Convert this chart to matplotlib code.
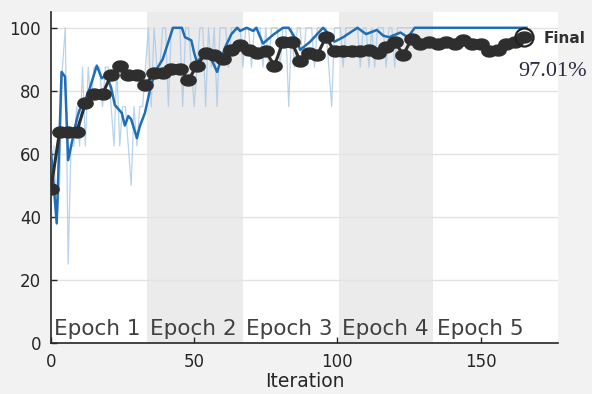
import matplotlib
matplotlib.use("Agg")
import matplotlib.pyplot as plt
from matplotlib.path import Path
import numpy as np

# raw mini-batch accuracy, one value per iteration (1..166)
raw_acc = [62.5, 37.5, 50, 87.5, 100, 25, 62.5, 62.5, 75, 62.5,
           87.5, 62.5, 87.5, 75, 87.5, 87.5, 87.5, 75, 87.5, 87.5,
           75, 62.5, 87.5, 62.5, 75, 75, 62.5, 50, 75, 62.5,
           75, 75, 87.5, 100, 75, 100, 87.5, 87.5, 100, 100,
           75, 100, 100, 100, 100, 75, 100, 100, 87.5, 75,
           87.5, 100, 100, 75, 100, 87.5, 100, 75, 100, 100,
           100, 87.5, 100, 100, 100, 100, 87.5, 100, 100, 87.5,
           100, 100, 100, 87.5, 100, 87.5, 100, 100, 100, 87.5,
           100, 100, 75, 100, 87.5, 100, 100, 87.5, 100, 100,
           100, 87.5, 100, 100, 100, 100, 87.5, 75, 100, 100,
           100, 87.5, 100, 100, 100, 100, 100, 87.5, 100, 100,
           87.5, 100, 87.5, 100, 100, 100, 87.5, 100, 100, 87.5,
           100, 100, 100, 100] + [100] * 42
raw_iter = list(range(1, len(raw_acc) + 1))

smooth_iter = [0, 2, 3.7, 4.9, 6, 9, 10, 11.9, 13.6, 16, 17.7, 19.4, 21, 22.3,
               24.7, 25.8, 27, 28, 30, 31, 32.8, 34.5, 36.3, 39, 42.6, 45.7,
               46.8, 49, 50, 51, 53, 56, 58, 60.7, 63, 65, 66, 68.3, 70.6,
               71.7, 74, 77.6, 81, 83, 85.8, 87, 90.4, 95, 97, 99, 102, 107,
               110, 113.8, 116, 118, 122, 124.6, 127, 166]
smooth_acc = [61, 38, 86, 84.5, 58, 71, 74, 77, 81, 88, 84, 85, 81, 75.5,
              73, 69, 72, 71, 65, 68.7, 73, 80, 86, 90, 100, 100,
              97, 96, 92, 89, 91.5, 90, 86, 93.6, 98, 100, 99, 100, 99,
              100, 95, 97.8, 100, 100, 96, 93, 95.5, 100, 98, 95.6, 97, 100,
              98, 99.3, 97.5, 97, 98.5, 97, 100, 100]

# validation accuracy
val_iter = list(range(0, 166, 3))
val_acc = [49, 67, 67, 67, 76, 79, 79, 85, 88, 85, 85, 82, 85.5, 85.5,
           87, 87, 83.5, 88, 92, 91.5, 90, 93, 94.5, 93, 92, 92.5, 88,
           95.5, 95.5, 89.5, 92, 91.5, 97, 92.5, 92.5, 92.5, 92.5, 93,
           92, 94, 95.5, 91.5, 96.5, 95, 95.5, 95, 95.5, 95, 96, 95,
           95, 92.5, 93, 95, 95.5, 97.01]

epoch_edges = [0, 33.5, 67, 100.5, 133.5, 167]
epoch_labels = ["Epoch 1", "Epoch 2", "Epoch 3", "Epoch 4", "Epoch 5"]
final_acc = 97.01

# wide oval marker like the blurry dots in the picture
t = np.linspace(0, 2 * np.pi, 40)
oval = Path(np.column_stack([np.cos(t), 0.72 * np.sin(t)]), closed=True)

fig = plt.figure(figsize=(5.92, 3.94), dpi=100, facecolor="#f2f2f2")
ax = fig.add_axes([0.0861, 0.1294, 0.8564, 0.8401])
ax.set_facecolor("white")

# shaded epochs
for i in range(len(epoch_labels)):
    if i % 2 == 1:
        ax.axvspan(epoch_edges[i], epoch_edges[i + 1], color="#ebebeb", lw=0, zorder=0)
    ax.text(epoch_edges[i] + 1.2, 1.3, epoch_labels[i], fontsize=15.5,
            color="#404040", va="bottom", ha="left", zorder=1)

ax.grid(axis="y", color="#e3e3e3", lw=1, zorder=0.5)
ax.set_axisbelow(True)

ax.plot(raw_iter, raw_acc, color="#a7c9e6", lw=0.9, alpha=0.8, zorder=2)
ax.plot(smooth_iter, smooth_acc, color="#1f6db4", lw=1.8, zorder=3)
ax.plot(val_iter, val_acc, color="#2e2e2e", lw=2.2, marker=oval, ms=11,
        mfc="#2e2e2e", mec="#2e2e2e", zorder=4)
ax.plot(val_iter[-1], final_acc, "o", mfc="none", mec="#222222", ms=13, mew=1.6, zorder=5)

ax.text(val_iter[-1] + 7, final_acc - 0.5, "Final", fontsize=11, color="#303030",
        va="center", ha="left", fontweight="bold")
ax.text(val_iter[-1] - 2, final_acc - 11, "97.01%", fontsize=16, color="#2a2a40",
        va="center", ha="left", family="Liberation Serif")

ax.set_xlim(0, 177)
ax.set_ylim(0, 105)
ax.set_xticks([0, 50, 100, 150])
ax.set_yticks([0, 20, 40, 60, 80, 100])
ax.tick_params(direction="in", length=4, width=1, colors="#262626", labelsize=12, pad=7)
for s in ["top", "right"]:
    ax.spines[s].set_visible(False)
for s in ["left", "bottom"]:
    ax.spines[s].set_color("#262626")
    ax.spines[s].set_linewidth(1.2)

ax.set_xlabel("Iteration", fontsize=13.5, color="#262626", labelpad=1)

fig.savefig("out.png", dpi=100, facecolor=fig.get_facecolor())
